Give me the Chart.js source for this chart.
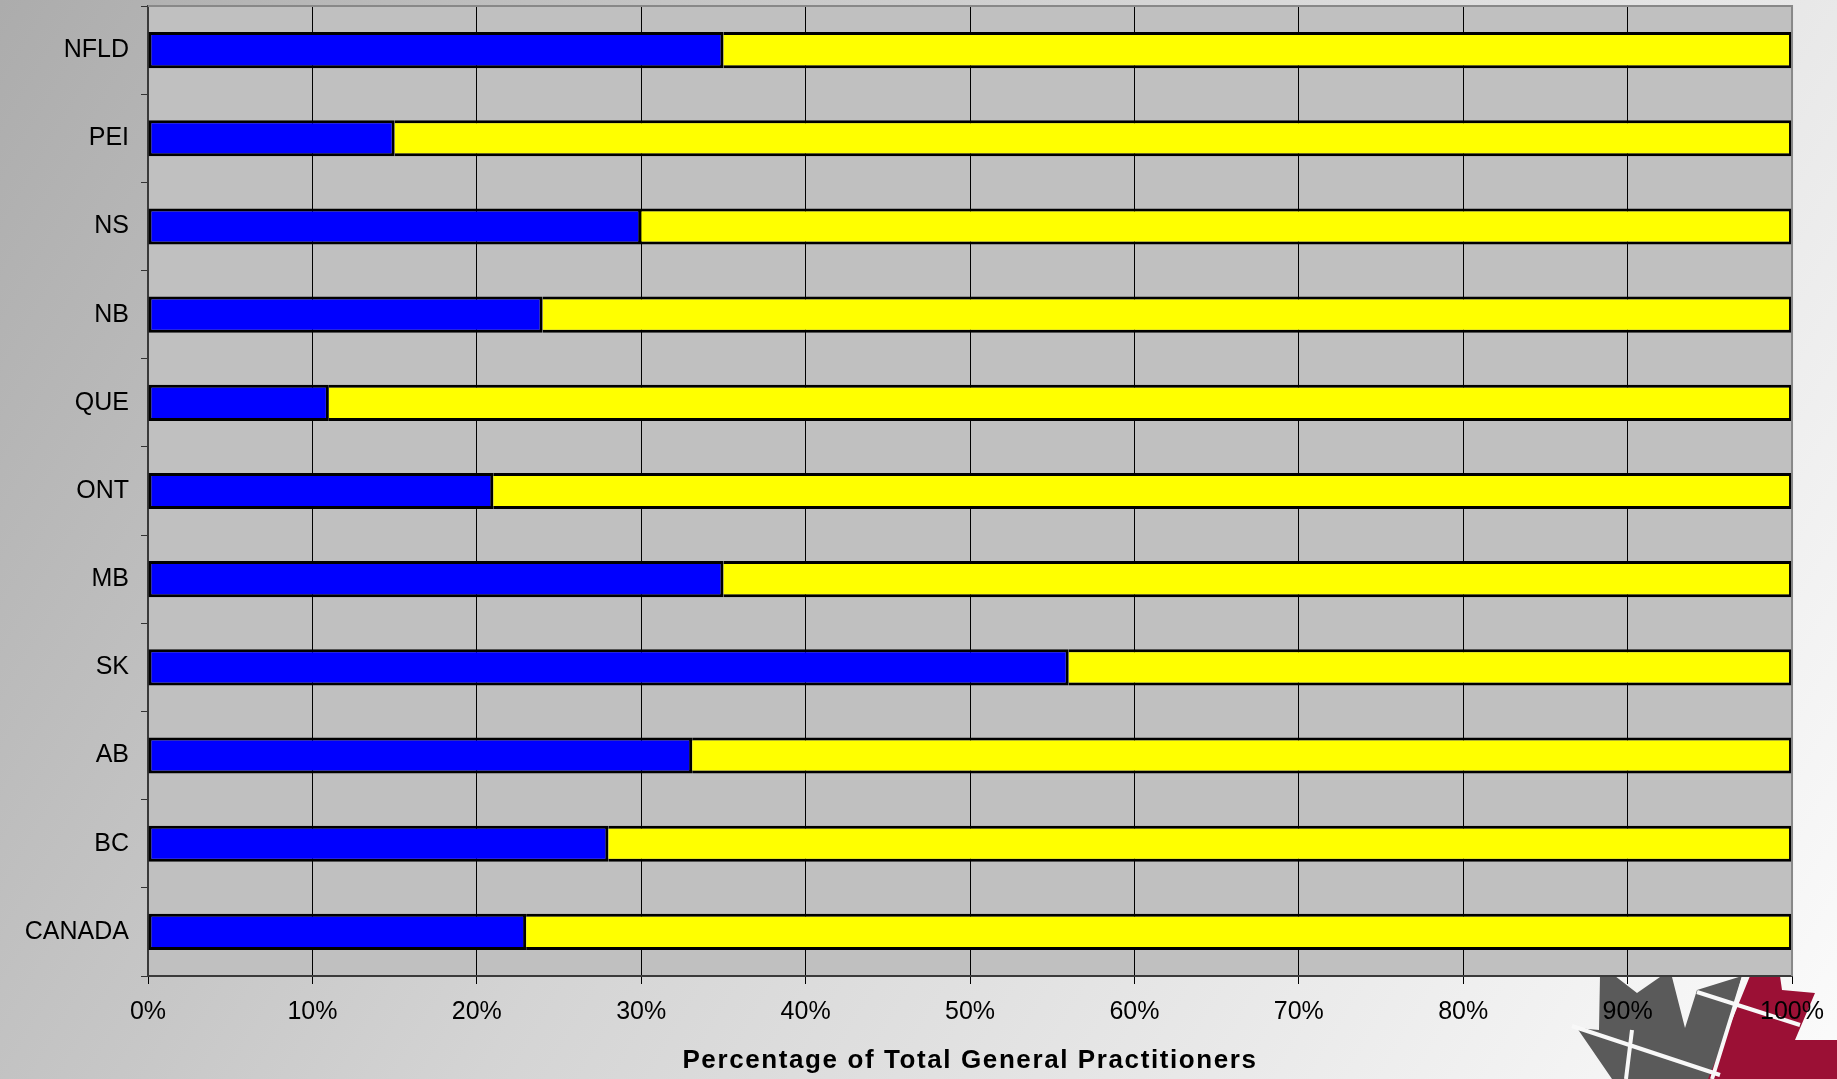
<!DOCTYPE html>
<html>
<head>
<meta charset="utf-8">
<script src="https://cdn.jsdelivr.net/npm/chart.js@4/dist/chart.umd.min.js"></script>
<style>
  html, body { margin: 0; padding: 0; }
  body { width: 1837px; height: 1079px; overflow: hidden; }
  #wrap { position: relative; width: 1837px; height: 1079px; }
</style>
</head>
<body>
<div id="wrap"><canvas id="gpChart" width="1837" height="1079"></canvas></div>
<script>
// Provinces, top to bottom
const provinces = ['NFLD', 'PEI', 'NS', 'NB', 'QUE', 'ONT', 'MB', 'SK', 'AB', 'BC', 'CANADA'];
// Share of GPs (blue) and remainder (yellow), in percent
const bluePct = [35, 15, 30, 24, 11, 21, 35, 56, 33.1, 28, 23];
const yellowPct = [65, 85, 70, 76, 89, 79, 65, 44, 66.9, 72, 77];
const xTicks = [0, 10, 20, 30, 40, 50, 60, 70, 80, 90, 100];
const xTitle = 'Percentage of Total General Practitioners';

const FONT = "'Liberation Sans', Arial, sans-serif";

// page background, logo and grey plot area
const fondo = {
    id: 'fondo',
    beforeDraw(chart) {
        const ctx = chart.ctx;
        const w = chart.width, h = chart.height;
        ctx.save();
        const g = ctx.createLinearGradient(0, 0, w, h);
        g.addColorStop(0, '#acacac');
        g.addColorStop(0.45, '#d4d4d4');
        g.addColorStop(1, '#fbfbfb');
        ctx.fillStyle = g;
        ctx.fillRect(0, 0, w, h);

        // logo (grey and crimson leaf pieces)
        ctx.fillStyle = '#5a5a5a';
        ctx.beginPath();
        ctx.moveTo(1600, 976); ctx.lineTo(1615, 976); ctx.lineTo(1637, 993);
        ctx.lineTo(1660, 977); ctx.lineTo(1672, 977); ctx.lineTo(1685, 1028);
        ctx.lineTo(1697, 990); ctx.lineTo(1742, 976); ctx.lineTo(1714, 1079);
        ctx.lineTo(1612, 1079); ctx.lineTo(1577, 1028); ctx.lineTo(1599, 1030);
        ctx.closePath();
        ctx.fill();
        ctx.fillStyle = '#9b1035';
        ctx.beginPath();
        ctx.moveTo(1750, 976); ctx.lineTo(1780, 976); ctx.lineTo(1782, 990);
        ctx.lineTo(1815, 993); ctx.lineTo(1795, 1040); ctx.lineTo(1837, 1040);
        ctx.lineTo(1837, 1079); ctx.lineTo(1708, 1079);
        ctx.closePath();
        ctx.fill();
        ctx.strokeStyle = '#f8f8f8';
        ctx.lineWidth = 4;
        ctx.beginPath();
        ctx.moveTo(1572, 1026); ctx.lineTo(1720, 1075);
        ctx.moveTo(1632, 1030); ctx.lineTo(1626, 1079);
        ctx.moveTo(1744, 976); ctx.lineTo(1712, 1079);
        ctx.moveTo(1697, 992); ctx.lineTo(1800, 1025);
        ctx.stroke();

        const a = chart.chartArea;
        ctx.fillStyle = '#c0c0c0';
        ctx.fillRect(a.left, a.top, a.right - a.left, a.bottom - a.top);
        ctx.restore();
    },
    afterDatasetsDraw(chart) {
        // top and right frame of the plot area
        const ctx = chart.ctx, a = chart.chartArea;
        ctx.save();
        ctx.strokeStyle = '#888888';
        ctx.lineWidth = 2;
        ctx.beginPath();
        ctx.moveTo(a.left, a.top);
        ctx.lineTo(a.right, a.top);
        ctx.lineTo(a.right, a.bottom);
        ctx.stroke();
        ctx.restore();
    },
    afterDraw(chart) {
        // axis title, slightly spaced out
        const ctx = chart.ctx, a = chart.chartArea;
        ctx.save();
        ctx.font = 'bold 26px ' + FONT;
        ctx.fillStyle = '#000000';
        ctx.letterSpacing = '1.6px';
        ctx.textAlign = 'center';
        ctx.textBaseline = 'middle';
        ctx.fillText(xTitle, (a.left + a.right) / 2, 1061);
        ctx.restore();
    }
};

new Chart(document.getElementById('gpChart').getContext('2d'), {
    type: 'bar',
    data: {
        labels: provinces,
        datasets: [{
            data: bluePct,
            backgroundColor: '#0000ff',
            borderColor: '#000000',
            borderWidth: 3,
            borderSkipped: false,
            categoryPercentage: 1,
            barPercentage: 0.41,
        }, {
            data: yellowPct,
            backgroundColor: '#ffff00',
            borderColor: '#000000',
            borderWidth: 3,
            borderSkipped: 'start',
            categoryPercentage: 1,
            barPercentage: 0.41,
        }],
    },
    options: {
        indexAxis: 'y',
        responsive: false,
        animation: false,
        layout: { padding: { top: 6, right: 44, left: 0, bottom: 0 } },
        plugins: {
            legend: { display: false },
            tooltip: { enabled: false },
        },
        scales: {
            x: {
                stacked: true,
                min: 0,
                max: 100,
                afterBuildTicks(scale) {
                    scale.ticks = xTicks.map(v => ({ value: v }));
                },
                afterFit(scale) { scale.height = 103; },
                grid: { color: '#000000', lineWidth: 1, tickLength: 8 },
                border: { color: '#3a3a3a', width: 2 },
                ticks: {
                    color: '#000000',
                    font: { family: FONT, size: 25 },
                    padding: 13,
                    maxRotation: 0,
                    autoSkip: false,
                    callback: v => v + '%',
                },
            },
            y: {
                stacked: true,
                afterFit(scale) {
                    scale.width = 148;
                    scale.paddingTop = 0;
                    scale.paddingBottom = 0;
                },
                grid: {
                    offset: true,
                    drawOnChartArea: false,
                    color: '#333333',
                    tickLength: 7,
                },
                border: { color: '#3a3a3a', width: 2 },
                ticks: {
                    color: '#000000',
                    font: { family: FONT, size: 25 },
                    padding: 12,
                    autoSkip: false,
                },
            },
        },
    },
    plugins: [fondo],
});
</script>
</body>
</html>
